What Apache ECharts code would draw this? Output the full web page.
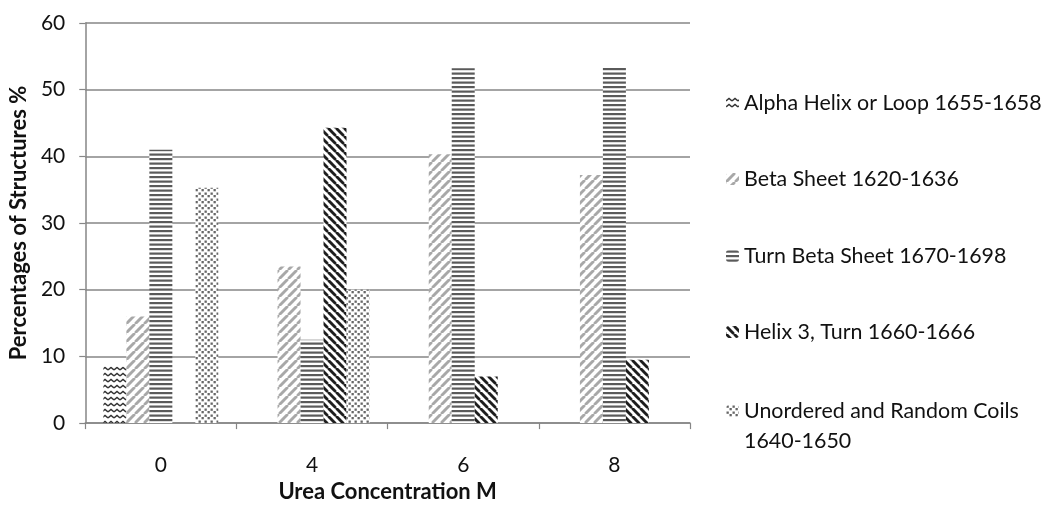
<!DOCTYPE html>
<html>
<head>
<meta charset="utf-8">
<script src="https://cdn.jsdelivr.net/npm/echarts@6/dist/echarts.min.js"></script>
<style>
  html, body { margin: 0; padding: 0; background: #fff; overflow: hidden; }
  #chart { width: 1046px; height: 508px; }
</style>
</head>
<body>
<div id="chart"></div>
<script>
// Urea concentration (M) and secondary-structure shares (%)
const categories = ['0', '4', '6', '8'];
const seriesNames = [
  'Alpha Helix or Loop 1655-1658',
  'Beta Sheet 1620-1636',
  'Turn Beta Sheet 1670-1698',
  'Helix 3, Turn 1660-1666',
  'Unordered and Random Coils 1640-1650'
];
const alphaHelix = [8.5, 0, 0, 0];
const betaSheet = [16, 23.5, 40.3, 37.2];
const turnBetaSheet = [41, 12.5, 53.2, 53.4];
const helix3Turn = [0, 44.3, 7, 9.5];
const unorderedCoils = [35.3, 20, 0, 0];
const yTicks = [0, 60, 10];   // min, max, step

const values = [alphaHelix, betaSheet, turnBetaSheet, helix3Turn, unorderedCoils];

// --- hatch fills drawn on small canvas tiles ---
function tile(w, h, draw) {
  const c = document.createElement('canvas');
  c.width = w; c.height = h;
  const g = c.getContext('2d');
  g.fillStyle = '#fff';
  g.fillRect(0, 0, w, h);
  draw(g, w, h);
  return { image: c, repeat: 'repeat' };
}
function diag(g, s, forward) {
  const segs = forward
    ? [[0, s, s, 0], [-s, s, 0, 0], [s, 2 * s, 2 * s, s], [s, s, 2 * s, 0], [-s, 2 * s, s, 0]]
    : [[0, 0, s, s], [-s, 0, 0, s], [s, 0, 2 * s, s], [0, -s, s, 0], [-s, -s, 2 * s, 2 * s]];
  segs.forEach(p => { g.beginPath(); g.moveTo(p[0], p[1]); g.lineTo(p[2], p[3]); g.stroke(); });
}
const fills = [
  tile(6, 6, (g) => {          // zigzag
    g.strokeStyle = '#333'; g.lineWidth = 1.4;
    g.beginPath(); g.moveTo(0, 4); g.lineTo(3, 1.5); g.lineTo(6, 4); g.stroke();
  }),
  tile(9, 9, (g, w) => {       // light forward diagonal
    g.strokeStyle = '#a8a8a8'; g.lineWidth = 2.6; diag(g, w, true);
  }),
  tile(8, 9, (g, w) => {       // horizontal bands
    g.fillStyle = '#5a5a5a';
    g.fillRect(0, 0.5, w, 2.2); g.fillRect(0, 5, w, 2.2);
  }),
  tile(8, 8, (g, w) => {       // dark backward diagonal
    g.strokeStyle = '#1e1e1e'; g.lineWidth = 2.6; diag(g, w, false);
  }),
  tile(6, 6, (g) => {          // dotted
    g.fillStyle = '#666';
    g.fillRect(0.5, 0.5, 2.3, 2.3); g.fillRect(3.5, 3, 2.3, 2.3);
  })
];

const chart = echarts.init(document.getElementById('chart'), null, { renderer: 'canvas', width: 1046, height: 508 });

const font = 'Lato, "Open Sans", sans-serif';
const legendTops = [98, 174, 251, 327, 406];
const LH = 30;

const legends = seriesNames.map((name, i) => {
  const last = i === seriesNames.length - 1;
  return {
    orient: 'vertical',
    left: 721,
    // the wrapped entry gets an empty leading line so its icon sits on the first text line
    top: last ? legendTops[i] - LH * 1.5 : legendTops[i] - LH / 2,
    data: [name],
    selectedMode: false,
    itemWidth: 13,
    itemHeight: 12,
    itemGap: 6,
    formatter: (n) => last ? '\n' + n.replace(' 1640-1650', '\n1640-1650') : n,
    textStyle: {
      fontFamily: font, fontSize: 21.4, color: '#111',
      lineHeight: LH
    }
  };
});

chart.setOption({
  backgroundColor: '#fff',
  animation: false,
  textStyle: { fontFamily: font },
  grid: { left: 84, width: 606, top: 23, height: 407, containLabel: false },
  legend: legends,
  xAxis: {
    type: 'category',
    data: categories,
    name: 'Urea Concentration M',
    nameLocation: 'middle',
    nameGap: 57,
    nameTextStyle: { fontFamily: font, fontSize: 22, fontWeight: 'bold', color: '#111' },
    axisLine: { lineStyle: { color: '#868686', width: 1.5 } },
    axisTick: { show: true, length: 6, lineStyle: { color: '#868686', width: 1.2 } },
    axisLabel: { fontFamily: font, fontSize: 21, color: '#111', margin: 32 }
  },
  yAxis: {
    type: 'value',
    min: yTicks[0], max: yTicks[1], interval: yTicks[2],
    name: 'Percentages of Structures %',
    nameLocation: 'middle',
    nameGap: 54,
    nameTextStyle: { fontFamily: font, fontSize: 22, fontWeight: 'bold', color: '#111' },
    axisLine: { show: true, lineStyle: { color: '#868686', width: 1.5 } },
    axisTick: { show: true, length: 6, lineStyle: { color: '#868686', width: 1.2 } },
    axisLabel: { fontFamily: font, fontSize: 21, color: '#111', margin: 20 },
    splitLine: { show: true, lineStyle: { color: '#868686', width: 1.5 } }
  },
  series: seriesNames.map((name, i) => ({
    name,
    type: 'bar',
    data: values[i],
    barGap: '0%',
    barCategoryGap: '24%',
    itemStyle: { color: fills[i] },
    emphasis: { disabled: true }
  }))
});
</script>
</body>
</html>
